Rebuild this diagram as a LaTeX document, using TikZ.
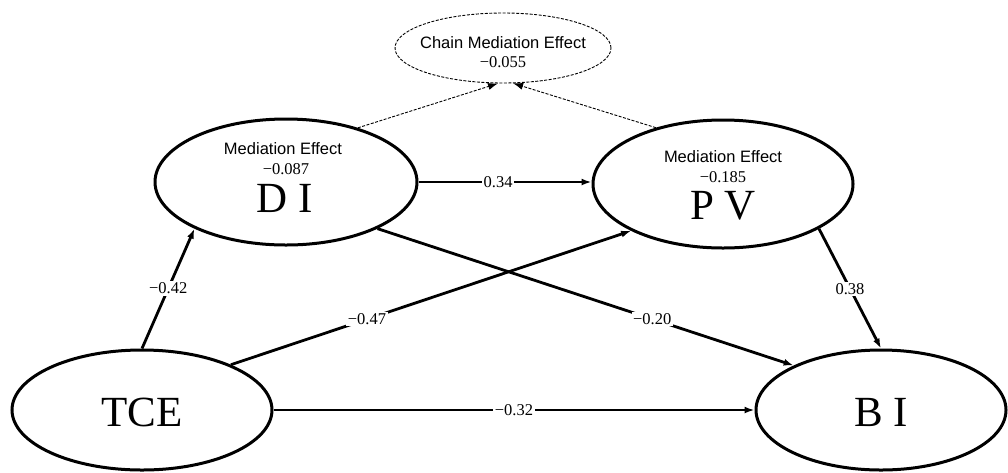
\documentclass[tikz,border=0pt]{standalone}
\usepackage{fontspec}
\setmainfont{Liberation Serif}
\newfontfamily\arialf{Liberation Sans}
\usetikzlibrary{arrows.meta,shapes.geometric}
\begin{document}
\begin{tikzpicture}[x=1pt,y=-1pt,
  latent/.style={draw,line width=3pt,ellipse,inner sep=0pt},
  pathto/.style={line width=2.8pt,-{Latex[length=10pt,width=7pt]}},
  chainto/.style={line width=0.9pt,dash pattern=on 3pt off 1.5pt,-{Latex[length=10pt,width=7pt]}},
  coef/.style={fill=white,inner sep=1.5pt,font=\fontsize{16.5}{18}\selectfont},
  small/.style={inner sep=0pt,font=\arialf\fontsize{16.5}{18}\selectfont},
  num/.style={inner sep=0pt,font=\fontsize{16.5}{18}\selectfont},
  big/.style={inner sep=0pt,font=\fontsize{43}{46}\selectfont}]
\useasboundingbox (0,0) rectangle (1008,472);

% latent variables
\node[latent,minimum width=262pt,minimum height=126pt] (di) at (286,182) {};
\node[latent,minimum width=260pt,minimum height=128pt] (pv) at (723,184) {};
\node[latent,minimum width=260pt,minimum height=120pt] (tce) at (142,410) {};
\node[latent,minimum width=250pt,minimum height=120pt] (bi) at (881,410) {};
\node[draw,ellipse,inner sep=0pt,line width=0.9pt,dash pattern=on 3pt off 1.5pt,
      minimum width=216pt,minimum height=70pt] (chain) at (503,48) {};

% texts
\node[small] (chaint) at (503,43) {Chain Mediation Effect};
\node[num] (chainv) at (503,62) {−0.055};
\node[small] (dit) at (283,149) {Mediation Effect};
\node[num] (div) at (286,169) {−0.087};
\node[big] (dil) at (285,198) {D I};
\node[small] (pvt) at (723,157) {Mediation Effect};
\node[num] (pvv) at (723,177) {−0.185};
\node[big] (pvl) at (723,206) {P V};
\node[big] (tcel) at (142,412) {TCE};
\node[big] (bil) at (881,412) {B I};

% paths
\draw[pathto] (tce.90) -- node[coef,pos=0.5] {−0.42} (di.207);
\draw[pathto] (tce.27) -- node[coef,pos=0.34] {−0.47} (pv.207);
\draw[pathto] (di.333) -- node[coef,pos=0.66] {−0.20} (bi.153);
\draw[pathto] (di.east) -- node[coef,pos=0.46] {0.34} (pv.west |- di.east);
\draw[pathto] (pv.335) -- node[coef,pos=0.5] {0.38} (bi.90);
\draw[pathto] (tce.east) -- node[coef,pos=0.5] {−0.32} (bi.west);

% chain
\draw[chainto] (di.37) -- (chain.262);
\draw[chainto] (pv.140) -- (chain.286);
\end{tikzpicture}
\end{document}
